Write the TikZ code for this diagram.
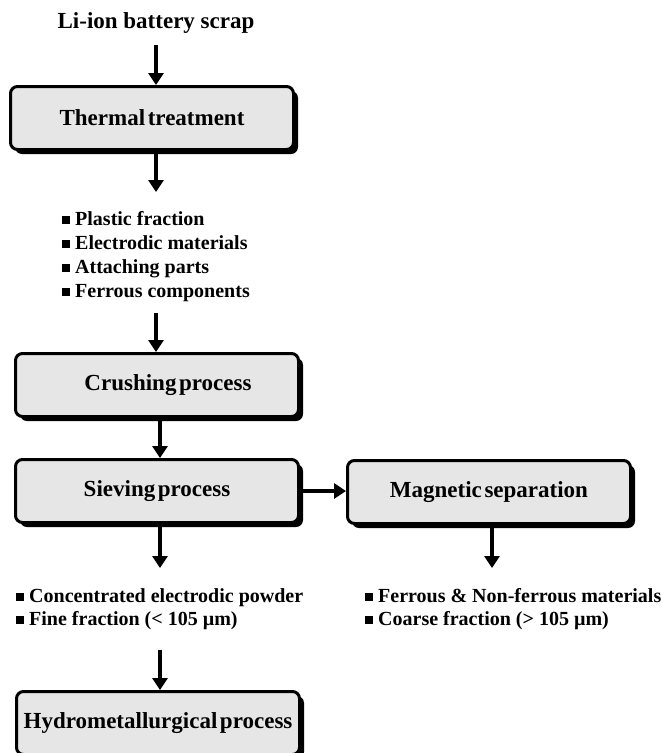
\documentclass[tikz,border=0pt]{standalone}
\usepackage{fontspec}
\setmainfont{Liberation Serif}
\newfontfamily\boxfont[WordSpace=0.45]{Liberation Serif}
\usetikzlibrary{arrows.meta,shadows}
\definecolor{boxgray}{RGB}{230,230,230}
\newcommand{\sqbul}{\rule[1.5pt]{7.5pt}{7.5pt}\hspace{5.5pt}}

\begin{document}
\begin{tikzpicture}
[every node/.style={inner sep=0pt},
 procbox/.style={rounded corners=7pt, fill=boxgray, line width=3pt, draw=black, minimum width=283pt, minimum height=63pt, general shadow={fill=black, shadow xshift=4.5pt, shadow yshift=-4.5pt}, font=\boxfont\bfseries\fontsize{23}{27}\selectfont},
 itemlist/.style={align=left, anchor=north west, font=\bfseries\fontsize{20}{24}\selectfont},
 flow/.style={line width=4pt, -{Triangle[width=15pt,length=12pt]}}]
\useasboundingbox (0pt,0pt) rectangle (661pt,-753pt);
\node (scrap) [anchor=base, font=\bfseries\fontsize{23}{27}\selectfont] at (156pt,-28pt) {Li-ion battery scrap};
\node (thermal) [procbox] at (152pt,-118pt) {Thermal treatment};
\node (parts) [itemlist] at (62pt,-211pt) {\sqbul Plastic fraction\\ \sqbul Electrodic materials\\ \sqbul Attaching parts\\ \sqbul Ferrous components};
\node (crushing) [procbox] at (157pt,-385pt) {\hspace*{22pt}Crushing process};
\node (sieving) [procbox] at (157pt,-491pt) {Sieving process};
\node (magnetic) [procbox] at (489pt,-492pt) {Magnetic separation};
\node (fine) [itemlist] at (16pt,-588pt) {\sqbul Concentrated electrodic powder\\[-1pt] \sqbul Fine fraction (< 105 µm)};
\node (coarse) [itemlist] at (365pt,-588pt) {\sqbul Ferrous \& Non-ferrous materials\\[-1pt] \sqbul Coarse fraction (> 105 µm)};
\node (hydro) [procbox] at (158pt,-723pt) {Hydrometallurgical process};
\draw [flow, shorten <=12pt] (scrap.south) -- (scrap.south |- thermal.north);
\draw [flow, shorten >=19pt] (scrap.south |- thermal.south) -- (scrap.south |- parts.north);
\draw [flow, shorten <=11pt] (scrap.south |- parts.south) -- (scrap.south |- crushing.north);
\draw [flow] ([xshift=3pt]crushing.south) -- ([xshift=3pt]sieving.north);
\draw [flow] (sieving.east) -- (sieving.east -| magnetic.west);
\draw [flow, shorten >=20pt] ([xshift=3pt]sieving.south) -- ([xshift=3pt]sieving.south |- fine.north);
\draw [flow, shorten >=20pt] ([xshift=3pt]magnetic.south) -- ([xshift=3pt]magnetic.south |- coarse.north);
\draw [flow, shorten <=20pt] ([xshift=3pt]sieving.south |- fine.south) -- ([xshift=2pt]hydro.north);
\end{tikzpicture}
\end{document}
